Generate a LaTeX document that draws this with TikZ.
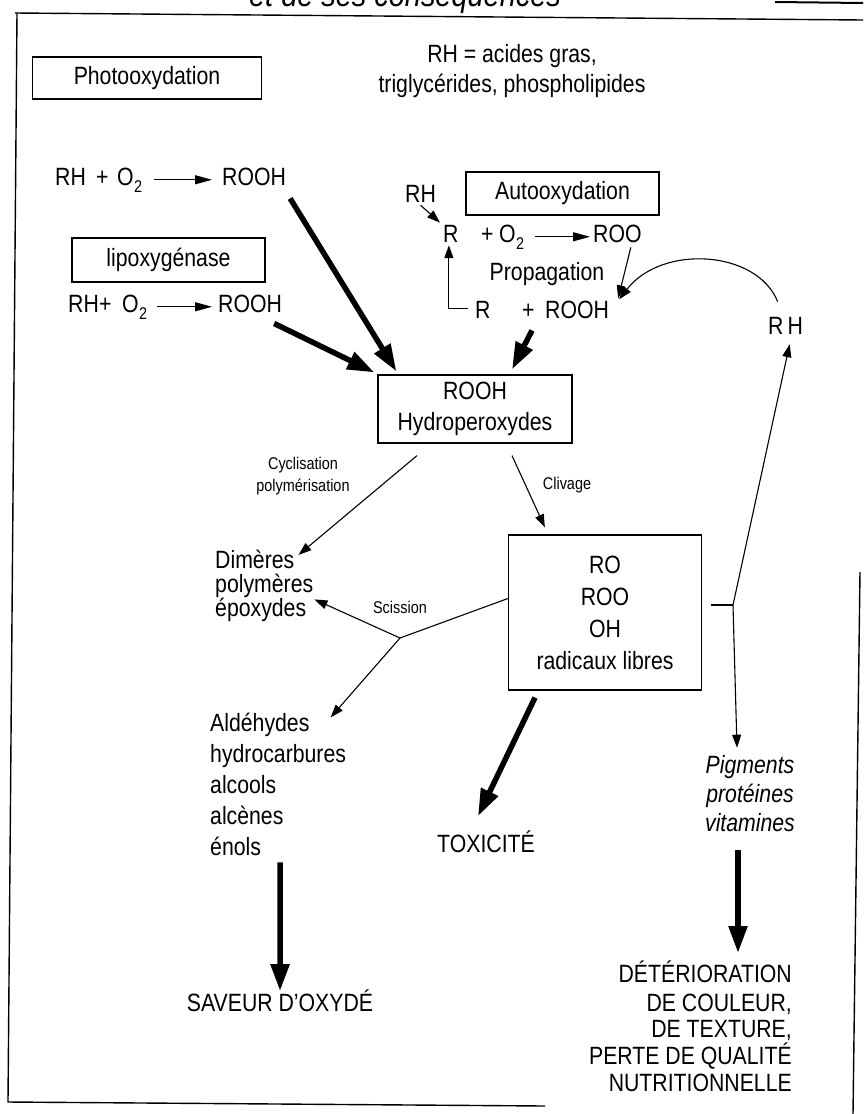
\documentclass[tikz,border=0pt]{standalone}
\usepackage{fontspec}
\setmainfont[FakeStretch=0.85]{Liberation Sans}
\usetikzlibrary{arrows.meta}
\newcommand\Otwo{O\kern0.5pt\raisebox{-0.28em}{\fontsize{17}{17}\selectfont 2}}
\begin{document}
\begin{tikzpicture}[x=1pt,y=-1pt,
  txt/.style={inner sep=0pt, font=\fontsize{25}{31}\selectfont},
  itxt/.style={inner sep=0pt, font=\itshape\fontsize{25}{31}\selectfont},
  sml/.style={inner sep=0pt, font=\fontsize{17}{22}\selectfont},
  boxnode/.style={draw, line width=1.2pt, inner sep=0pt, align=center, font=\fontsize{25}{31}\selectfont},
  thinarr/.style={line width=1.1pt, -{Triangle[length=13pt,width=9pt]}},
  rxn/.style={line width=1.1pt, -{Triangle[length=17pt,width=9pt]}},
  heavy/.style={line width=5.5pt, -{Triangle[length=27pt,width=18pt]}},
  frameline/.style={line width=1.4pt},
  plain/.style={line width=1.1pt}
]
\useasboundingbox (0,0) rectangle (863,1114);
% frame
\draw[frameline] (15,13) -- (863,20);
\draw[frameline] (17,13) -- (8,1102) -- (545,1106);
\draw[frameline] (860,572) -- (853,1114);
\draw[line width=2pt] (775,2) -- (863,3);
\node[inner sep=0pt, anchor=base, font=\itshape\fontsize{34}{40}\selectfont] (title) at (405,6) {et de ses conséquences};

% top texts
\node[boxnode, minimum width=229pt, minimum height=42pt] (photo) at (147,78) {Photooxydation};
\node[txt, anchor=base] (rhdefa) at (512,62) {RH = acides gras,};
\node[txt, anchor=base] (rhdefb) at (512,92) {triglycérides, phospholipides};

% reaction 1
\node[txt, anchor=base west] (rA) at (55,185) {RH};
\node[txt, anchor=base west] (pA) at (96,185) {+};
\node[txt, anchor=base west] (oA) at (117,185) {\Otwo};
\node[txt, anchor=base west] (roohA) at (222,185) {ROOH};
\draw[rxn, shorten <=12pt, shorten >=10pt] (oA.east) -- (oA.east -| roohA.west);

% lipoxygenase
\node[boxnode, minimum width=193pt, minimum height=44pt] (lipo) at (168.5,260) {lipoxygénase};
\node[txt, anchor=base west] (rB) at (68,312) {RH};
\node[txt, anchor=base west] (pB) at (99,312) {+};
\node[txt, anchor=base west] (oB) at (122,312) {\Otwo};
\node[txt, anchor=base west] (roohB) at (218,312) {ROOH};
\draw[rxn, shorten <=10pt, shorten >=6pt] (oB.east) -- (oB.east -| roohB.west);

% autooxydation
\node[boxnode, minimum width=193pt, minimum height=43pt] (auto) at (562.5,193.5) {Autooxydation};
\node[txt, anchor=base west] (rhs) at (405,202) {RH};
\node[txt, anchor=base west] (rtop) at (443,242) {R};
\node[txt, anchor=base west] (pC) at (481,242) {+};
\node[txt, anchor=base west] (oC) at (499,242) {\Otwo};
\node[txt, anchor=base west] (roo) at (593,242) {ROO};
\draw[rxn, shorten <=11pt, shorten >=3pt] (oC.east) -- (oC.east -| roo.west);
\node[txt, anchor=base] (prop) at (547,280) {Propagation};
\node[txt, anchor=base west] (rlow) at (475,318) {R};
\node[txt, anchor=base west] (pD) at (522,318) {+};
\node[txt, anchor=base west] (roohC) at (545,318) {ROOH};
\node[txt, anchor=base west] (rhr) at (768,334) {R\,H};

\draw[thinarr] ([shift={(0,3)}]rhs.south) -- ([shift={(-3,-2)}]rtop.north west);
\draw[thinarr] ([shift={(-11,5)}]roo.south east) -- ([shift={(9,-2)}]roohC.north east);
\draw[thinarr] ([shift={(-7,-1)}]rlow.west) -| ([shift={(-2,3)}]rtop.south);
\draw[thinarr] ([shift={(-8,-15)}]rhr.north) .. controls (757,250) and (662,244) .. ([shift={(10,-1)}]roohC.north east);

% hydroperoxydes
\node[boxnode, minimum width=194pt, minimum height=68pt] (rooh) at (475,409) {ROOH\\Hydroperoxydes};
\draw[heavy] ([shift={(4,13)}]roohA.south east) -- ([shift={(19,-3)}]rooh.north west);
\draw[heavy] ([shift={(-8,11)}]roohB.south east) -- ([shift={(-3,-2)}]rooh.north west);
\draw[heavy] ([shift={(-13,12)}]roohC.south west) -- ([shift={(37,-5)}]rooh.north);

% radicals box
\node[boxnode, minimum width=193pt, minimum height=155pt, font=\fontsize{25}{32}\selectfont] (ro) at (605,612.5) {RO\\ROO\\OH\\radicaux libres};

\node[sml, align=center] (cyc) at (303,476) {Cyclisation\\polymérisation};
\node[sml, anchor=base] (cliv) at (567,489) {Clivage};
\node[sml, anchor=base] (sci) at (400,613) {Scission};

\node[txt, anchor=base west] (dima) at (215,568) {Dimères};
\node[txt, anchor=base west] (dimb) at (215,592) {polymères};
\node[txt, anchor=base west] (dimc) at (215,616) {époxydes};

\node[txt, anchor=base west] (alda) at (210,731) {Aldéhydes};
\node[txt, anchor=base west] (aldb) at (210,762) {hydrocarbures};
\node[txt, anchor=base west] (aldc) at (210,793) {alcools};
\node[txt, anchor=base west] (aldd) at (210,824) {alcènes};
\node[txt, anchor=base west] (alde) at (210,855) {énols};

\node[txt, anchor=base] (sav) at (280,1011) {SAVEUR D'OXYDÉ};
\node[txt, anchor=base west] (tox) at (437,852) {TOXICITÉ};

\node[itxt, anchor=base] (piga) at (750,773) {Pigments};
\node[itxt, anchor=base] (pigb) at (750,802) {protéines};
\node[itxt, anchor=base] (pigc) at (750,831) {vitamines};

\node[txt, anchor=base east] (deta) at (792,982) {DÉTÉRIORATION};
\node[txt, anchor=base east] (detb) at (792,1011) {DE COULEUR,};
\node[txt, anchor=base east] (detc) at (792,1037) {DE TEXTURE,};
\node[txt, anchor=base east] (detd) at (792,1064) {PERTE DE QUALITÉ};
\node[txt, anchor=base east] (dete) at (792,1091) {NUTRITIONNELLE};

\coordinate (jS) at (400,638);
\coordinate (jR) at (733,605);
\coordinate (dettop) at (738,953);

\draw[thinarr] ([shift={(-58,12)}]rooh.south) -- ([shift={(4,-4)}]dima.east);
\draw[thinarr] ([shift={(37,12)}]rooh.south) -- ([shift={(37,-7)}]ro.north west);
\draw[plain] ([shift={(0,-14)}]ro.west) -- (jS);
\draw[thinarr] (jS) -- ([shift={(1,14)}]dimb.east);
\draw[thinarr] (jS) -- ([shift={(21,-7)}]alda.east);
\draw[plain] ([shift={(9,-7.5)}]ro.east) -- (jR);
\draw[thinarr] (jR) -- ([shift={(4,10)}]rhr.south);
\draw[thinarr] (jR) -- ([shift={(-13,-7)}]piga.north);
\draw[heavy] ([shift={(-70,7)}]ro.south) -- ([shift={(41,-14)}]tox.north west);
\draw[heavy] ([shift={(44.6,7)}]alde.south) -- ([shift={(0,2)}]sav.north);
\draw[heavy] ([shift={(-12,19)}]pigc.south) -- (dettop);
\end{tikzpicture}
\end{document}
